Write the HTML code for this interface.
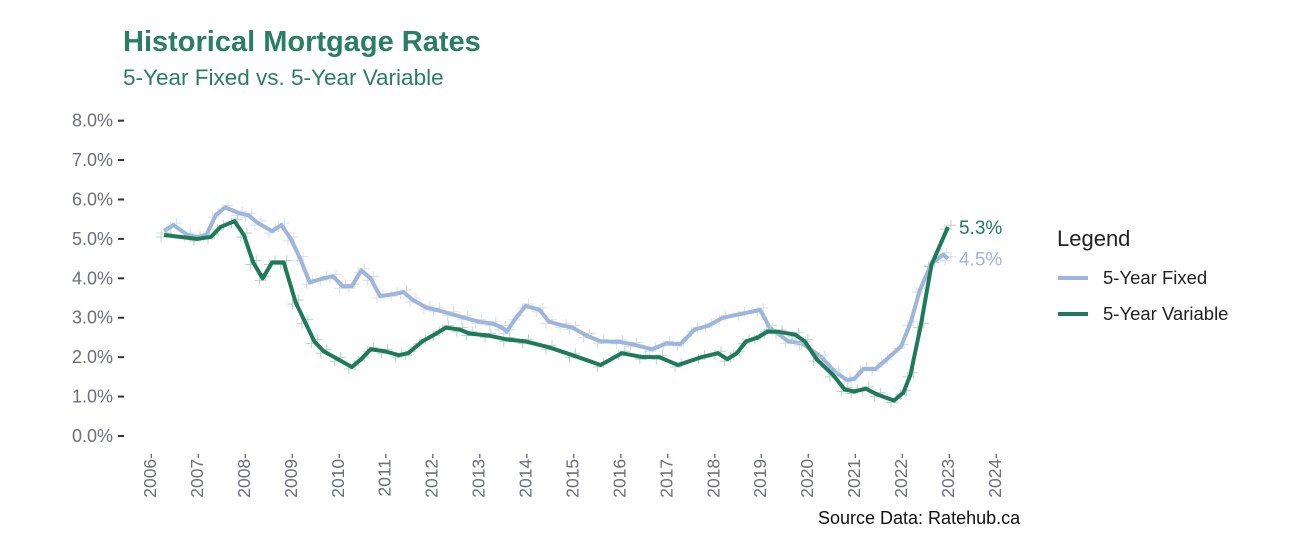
<!DOCTYPE html>
<html><head><meta charset="utf-8"><style>
body{margin:0;background:#fff;font-family:"Liberation Sans",sans-serif;}
svg text{font-family:"Liberation Sans",sans-serif;}
</style></head><body>
<svg id="chart" width="1289" height="552" viewBox="0 0 1289 552" xmlns="http://www.w3.org/2000/svg">
<rect width="1289" height="552" fill="#fff"/>
<text x="123" y="51" font-size="29" font-weight="bold" fill="#2a7f62">Historical Mortgage Rates</text>
<text x="123" y="85" font-size="22.5" fill="#2a7f62">5-Year Fixed vs. 5-Year Variable</text>
<g id="axes"></g>
<g id="series"></g>
<text x="818" y="524" font-size="18" fill="#111">Source Data: Ratehub.ca</text>
<g>
<text x="1057" y="246" font-size="22" fill="#222">Legend</text>
<line x1="1058" y1="278" x2="1088" y2="278" stroke="#9fb6dc" stroke-width="4"/>
<text x="1103" y="284" font-size="18.5" fill="#222">5-Year Fixed</text>
<line x1="1058" y1="314" x2="1088" y2="314" stroke="#1f7a5a" stroke-width="4"/>
<text x="1103" y="320" font-size="18.5" fill="#222">5-Year Variable</text>
</g>
</svg>
<script>
const yTicks=[0,1,2,3,4,5,6,7,8];
const xTicks=[2006,2007,2008,2009,2010,2011,2012,2013,2014,2015,2016,2017,2018,2019,2020,2021,2022,2023,2024];
const fixedYears=[2006.3,2006.5,2006.8,2007.0,2007.2,2007.4,2007.6,2007.9,2008.1,2008.3,2008.6,2008.8,2009.0,2009.2,2009.4,2009.7,2009.9,2010.1,2010.3,2010.5,2010.7,2010.9,2011.2,2011.4,2011.6,2011.9,2012.1,2012.4,2012.7,2013.0,2013.3,2013.5,2013.6,2013.8,2014.0,2014.3,2014.5,2014.8,2015.0,2015.3,2015.6,2016.0,2016.3,2016.7,2017.0,2017.3,2017.6,2017.9,2018.2,2018.6,2019.0,2019.2,2019.6,2019.9,2020.3,2020.6,2020.85,2021.0,2021.2,2021.45,2021.65,2022.0,2022.2,2022.4,2022.65,2022.9,2023.0];
const fixedVals=[5.2,5.35,5.1,5.05,5.1,5.6,5.8,5.65,5.6,5.4,5.2,5.35,5.0,4.5,3.9,4.0,4.05,3.8,3.8,4.2,4.0,3.55,3.6,3.65,3.45,3.25,3.2,3.1,3.0,2.9,2.85,2.75,2.65,3.0,3.3,3.2,2.9,2.8,2.75,2.55,2.4,2.39,2.32,2.2,2.35,2.33,2.7,2.8,3.0,3.1,3.2,2.75,2.4,2.35,2.0,1.62,1.42,1.45,1.7,1.7,1.9,2.27,2.86,3.7,4.38,4.6,4.5];
const varYears=[2006.3,2007.0,2007.3,2007.5,2007.8,2008.0,2008.2,2008.4,2008.6,2008.85,2009.1,2009.3,2009.5,2009.7,2010.0,2010.3,2010.5,2010.7,2011.0,2011.3,2011.5,2011.8,2012.1,2012.3,2012.6,2012.8,2013.2,2013.6,2014.0,2014.5,2015.0,2015.6,2016.05,2016.5,2016.85,2017.25,2017.75,2018.1,2018.3,2018.5,2018.7,2018.95,2019.15,2019.4,2019.75,2019.95,2020.2,2020.55,2020.8,2021.0,2021.25,2021.5,2021.85,2022.05,2022.2,2022.42,2022.65,2023.0];
const varVals=[5.1,5.0,5.05,5.3,5.45,5.1,4.4,4.0,4.4,4.4,3.4,2.9,2.4,2.15,1.95,1.75,1.95,2.2,2.15,2.05,2.1,2.4,2.6,2.75,2.7,2.6,2.55,2.45,2.4,2.25,2.05,1.8,2.1,2.0,2.0,1.8,2.0,2.1,1.95,2.1,2.4,2.5,2.65,2.64,2.57,2.4,1.95,1.55,1.18,1.13,1.2,1.05,0.9,1.1,1.55,2.8,4.35,5.3];
const NS='http://www.w3.org/2000/svg';
const x=v=>150+46.94*(v-2006);
const y=v=>436-39.42*v;
function mk(t,a,p){const e=document.createElementNS(NS,t);for(const k in a)e.setAttribute(k,a[k]);p.appendChild(e);return e;}
const ax=document.getElementById('axes'),se=document.getElementById('series');
yTicks.forEach(v=>{
 const t=mk('text',{x:113,y:y(v)+6,'text-anchor':'end','font-size':18,fill:'#6b6f78'},ax);t.textContent=v.toFixed(1)+'%';
 
 
 mk('line',{x1:118,x2:124,y1:y(v),y2:y(v),stroke:'#333','stroke-width':2},ax);
});
xTicks.forEach(v=>{
 const t=mk('text',{transform:`translate(${x(v)+6},${453}) rotate(-90)`,'text-anchor':'end','font-size':17.5,fill:'#6b6f78'},ax);t.textContent=v+'-';
 
 
});
function series(ys,vs,col,name,faded){
 ys.forEach((yr,i)=>{const cx=x(yr),cy=y(vs[i]);
  [[-3,2],[3,-2]].forEach(o=>{mk('path',{d:`M${cx+o[0]-5},${cy+o[1]}h10M${cx+o[0]},${cy+o[1]-5}v10`,stroke:faded,'stroke-width':1},se);});
 });
 const p=mk('polyline',{points:ys.map((yr,i)=>x(yr)+','+y(vs[i])).join(' '),fill:'none',stroke:col,'stroke-width':4,'stroke-linejoin':'round'},se);
 
 
}
series(fixedYears,fixedVals,'#9fb6dc','fixed-rate-line','#d6e0ef');
series(varYears,varVals,'#1f7a5a','variable-rate-line','#b7d3c8');
const lf=fixedVals[fixedVals.length-1],lv=varVals[varVals.length-1];
const t1=mk('text',{x:x(2023)+11,y:y(lv)+7,'font-size':19,fill:'#1f7a5a'},se);t1.textContent=lv.toFixed(1)+'%';


const t2=mk('text',{x:x(2023)+11,y:y(lf)+7,'font-size':19,fill:'#9fb6dc'},se);t2.textContent=lf.toFixed(1)+'%';


</script>
</body></html>
